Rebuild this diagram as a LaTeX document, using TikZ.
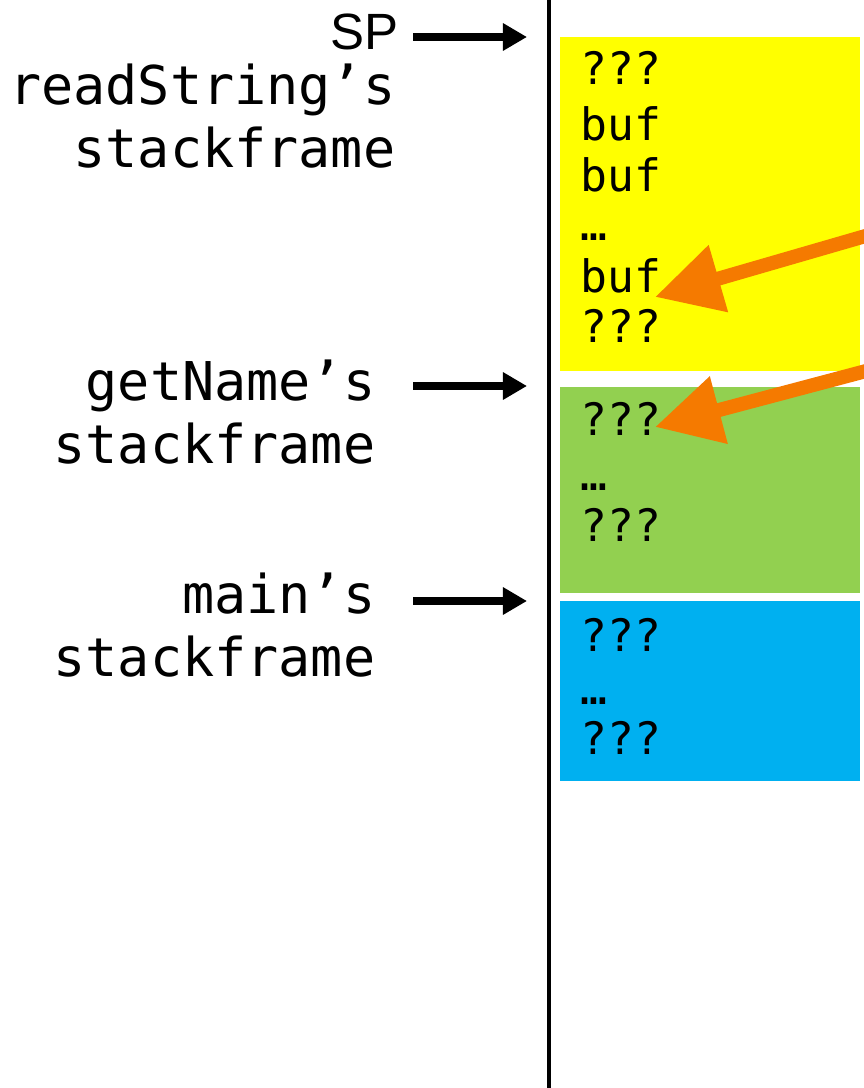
\documentclass[tikz,border=0pt]{standalone}
\usepackage{fontspec}
\usepackage{xcolor}
\setmonofont{DejaVu Sans Mono}
\setsansfont{Liberation Sans}
\usetikzlibrary{arrows.meta}
\definecolor{frameyellow}{RGB}{255,255,0}
\definecolor{framegreen}{RGB}{146,208,80}
\definecolor{frameblue}{RGB}{0,176,240}
\definecolor{ptrorange}{RGB}{245,122,0}

\tikzset{
  cell/.style={anchor=base west, inner sep=0pt, font=\ttfamily\fontsize{12.7}{15}\selectfont},
  lbl/.style={anchor=base east, inner sep=0pt, font=\ttfamily\fontsize{15.2}{18}\selectfont},
  sparrow/.style={line width=2.2pt, -{Triangle[length=0.24cm,width=0.26cm]}},
  ptr/.style={ptrorange, line width=4pt, -{Triangle[length=0.66cm,width=0.66cm]}}
}

\begin{document}
\begin{tikzpicture}[x=0.01cm, y=-0.01cm]
                \useasboundingbox (0,0) rectangle (864,1088);
                
                % Stack line
                \draw[line width=1pt] (549,0) -- (549,1088);
                
                % Frames
                \fill[frameyellow] (560,37) rectangle (860,371);
                \fill[framegreen] (560,387) rectangle (860,593);
                \fill[frameblue] (560,601) rectangle (860,781);
                
                % readString
                \node[cell] (r1) at (580,85) {???};
                \node[cell] (r2) at (580,140) {buf};
                \node[cell] (r3) at (580,192) {buf};
                \node[cell] (r4) at (580,241) {…};
                \node[cell] (r5) at (580,292) {buf};
                \node[cell] (r6) at (580,342) {???};
                
                % getName
                \node[cell] (g1) at (580,435) {???};
                \node[cell] (g2) at (580,490) {…};
                \node[cell] (g3) at (580,541) {???};
                
                % main
                \node[cell] (m1) at (580,651) {???};
                \node[cell] (m2) at (580,704) {…};
                \node[cell] (m3) at (580,754) {???};
                
                % Labels
                \node[anchor=base east, inner sep=0pt, font=\sffamily\fontsize{14.5}{17}\selectfont] (sp) at (399,50) {SP};
                \node[lbl] (rsA) at (396,105) {readString’s};
                \node[lbl] (rsB) at (396,168) {stackframe};
                \node[lbl] (gnA) at (376,400) {getName’s};
                \node[lbl] (gnB) at (376,463) {stackframe};
                \node[lbl] (mnA) at (376,613) {main’s};
                \node[lbl] (mnB) at (376,676) {stackframe};
                
                % Pointers
                \coordinate (spS) at (413,37);
                \coordinate (spE) at (527,37);
                \coordinate (gnS) at (413,386);
                \coordinate (gnE) at (527,386);
                \coordinate (mnS) at (413,601);
                \coordinate (mnE) at (527,601);
                \draw[sparrow] (spS) -- (spE);
                \draw[sparrow] (gnS) -- (gnE);
                \draw[sparrow] (mnS) -- (mnE);
                
                % Overflow
                \coordinate (ov1) at (900,226);
                \coordinate (ov2) at (900,362);
                \coordinate (t1) at (655,297);
                \coordinate (t2) at (655,427);
                \draw[ptr] (ov1) -- (t1);
                \draw[ptr] (ov2) -- (t2);
            \end{tikzpicture}
\end{document}
